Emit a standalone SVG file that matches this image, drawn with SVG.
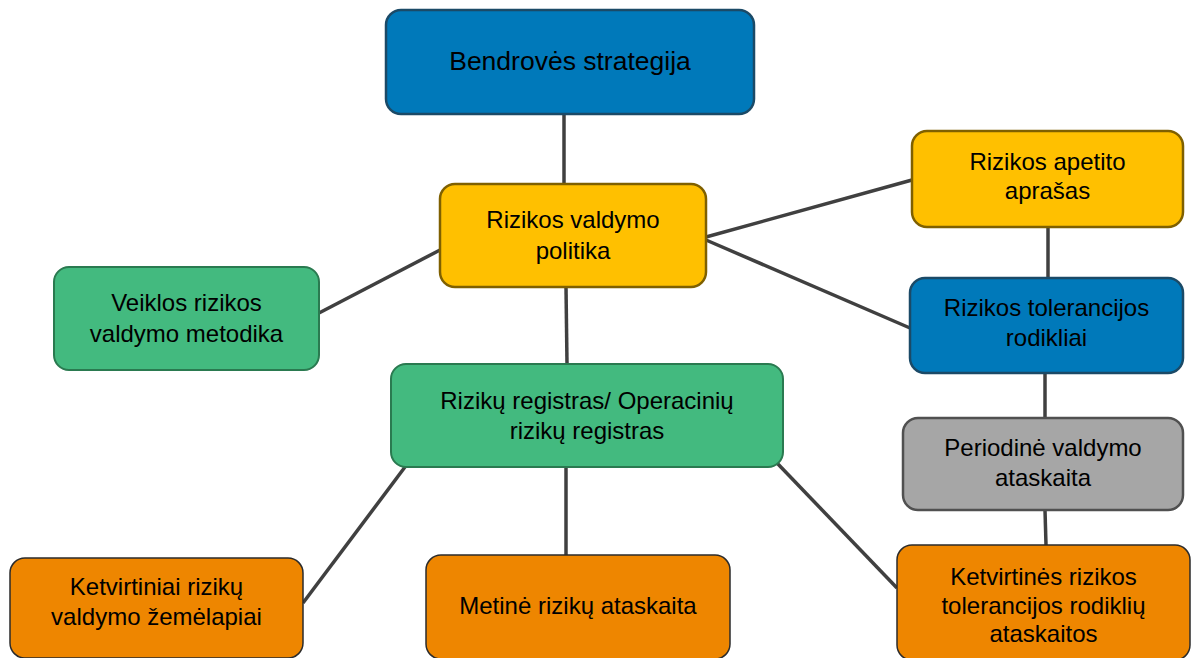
<svg xmlns="http://www.w3.org/2000/svg" width="1194" height="658" viewBox="0 0 1194 658">
<style>
text{font-family:"Liberation Sans",Arial,sans-serif;font-size:24px;fill:#000;text-anchor:middle}
.blue{fill:#0079BA;stroke:#1B4A67;stroke-width:2.5}
.yel{fill:#FFC000;stroke:#7F6000;stroke-width:2.5}
.grn{fill:#43BA7F;stroke:#2A7A50;stroke-width:2}
.org{fill:#EE8600;stroke:#2b2b2b;stroke-width:1.5}
.gry{fill:#A6A6A6;stroke:#505050;stroke-width:2.5}
#connectors line{stroke:#404040;stroke-width:3.5}
</style>
<rect width="1194" height="658" fill="#fff"/>
<g id="connectors">
<line x1="564" y1="114" x2="564" y2="184"/>
<line x1="706" y1="237" x2="912" y2="180"/>
<line x1="706" y1="240" x2="910" y2="328"/>
<line x1="440" y1="250" x2="319" y2="313"/>
<line x1="566" y1="287" x2="567" y2="364"/>
<line x1="1048" y1="227" x2="1048" y2="278"/>
<line x1="1045" y1="373" x2="1045" y2="418"/>
<line x1="1045" y1="510" x2="1046" y2="545"/>
<line x1="405" y1="467" x2="303" y2="603"/>
<line x1="566" y1="467" x2="566" y2="555"/>
<line x1="777" y1="463" x2="897" y2="588"/>
</g>
<g id="strategija"><rect class="blue" x="386" y="10" width="368" height="104" rx="15"/><text x="570" y="70" style="font-size:26.5px">Bendrovės strategija</text></g>
<g id="politika"><rect class="yel" x="440" y="184" width="266" height="103" rx="15"/><text x="573" y="228">Rizikos valdymo</text><text x="573" y="259">politika</text></g>
<g id="metodika"><rect class="grn" x="54" y="267" width="265" height="103" rx="15"/><text x="186.5" y="311">Veiklos rizikos</text><text x="186.5" y="342">valdymo metodika</text></g>
<g id="registras"><rect class="grn" x="391" y="364" width="392" height="103" rx="15"/><text x="587" y="409">Rizikų registras/ Operacinių</text><text x="587" y="439">rizikų registras</text></g>
<g id="apetitas"><rect class="yel" x="912" y="131" width="271" height="96" rx="15"/><text x="1047.5" y="170">Rizikos apetito</text><text x="1047.5" y="199">aprašas</text></g>
<g id="tolerancija"><rect class="blue" x="910" y="278" width="273" height="95" rx="15"/><text x="1046.5" y="316">Rizikos tolerancijos</text><text x="1046.5" y="346">rodikliai</text></g>
<g id="periodine"><rect class="gry" x="903" y="418" width="280" height="92" rx="15"/><text x="1043" y="456">Periodinė valdymo</text><text x="1043" y="486">ataskaita</text></g>
<g id="zemelapiai"><rect class="org" x="10" y="558" width="293" height="100" rx="15"/><text x="156.5" y="595">Ketvirtiniai rizikų</text><text x="156.5" y="625">valdymo žemėlapiai</text></g>
<g id="metine"><rect class="org" x="426" y="555" width="304" height="104" rx="15"/><text x="578" y="614">Metinė rizikų ataskaita</text></g>
<g id="ketvirtines"><rect class="org" x="897" y="545" width="293" height="115" rx="15"/><text x="1043.5" y="585">Ketvirtinės rizikos</text><text x="1043.5" y="614">tolerancijos rodiklių</text><text x="1043.5" y="642">ataskaitos</text></g>
</svg>
